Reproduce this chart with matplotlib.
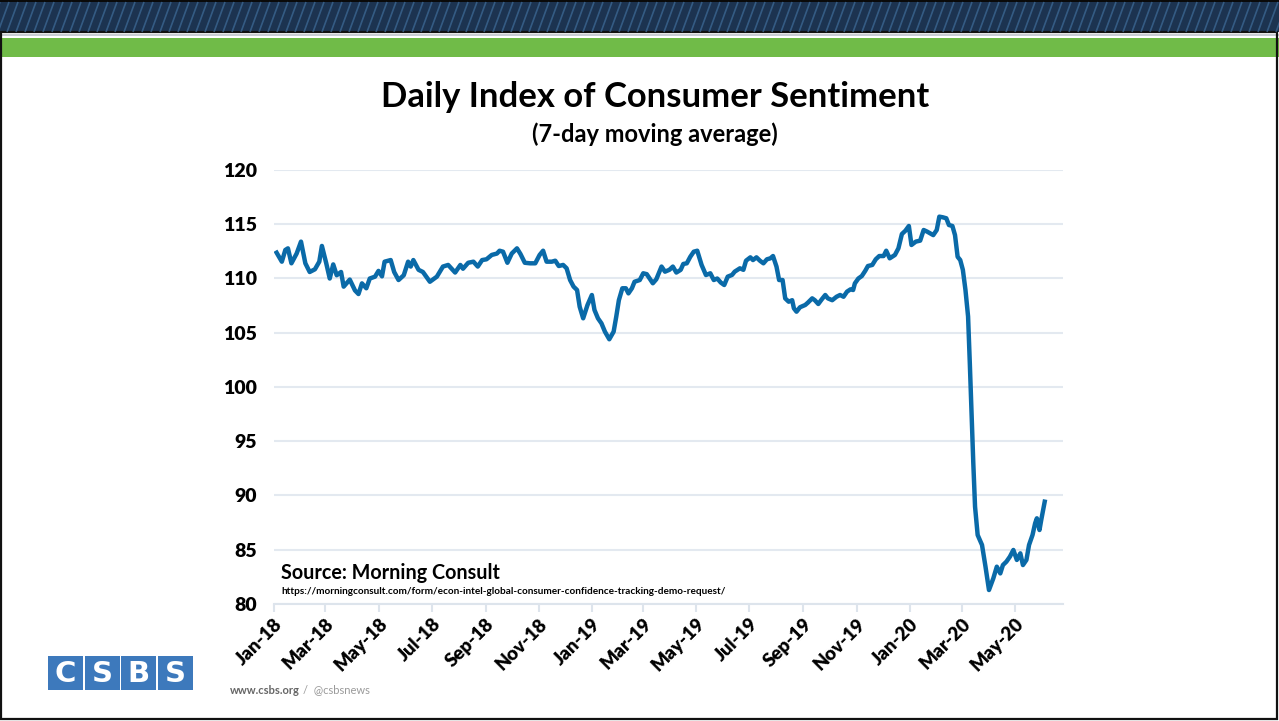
import numpy as np
import matplotlib
matplotlib.use("Agg")
import matplotlib.pyplot as plt
import matplotlib.dates as mdates
from matplotlib.patches import Rectangle

# ---------------- data ----------------
start_date = np.datetime64("2018-01-01")
day_offset = [
    3, 9, 13, 16, 20, 26, 31, 36, 41, 47, 52, 55, 60, 64, 68, 72, 77, 80, 87, 93,
    97, 101, 106, 110, 116, 120, 124, 127, 134, 138, 143, 149, 154, 157, 160, 166,
    171, 179, 187, 194, 200, 208, 214, 217, 223, 229, 234, 239, 244, 250, 256, 259,
    263, 268, 273, 279, 283, 288, 294, 300, 305, 309, 313, 319, 323, 327,
    332, 336, 340, 344, 348, 351, 355, 360, 365, 368, 372, 376, 380, 385, 390, 393,
    396, 400, 404, 407, 411, 414, 420, 424, 428, 435, 439, 445, 449, 454, 458, 462,
    467, 470, 474, 478, 482, 486, 491, 496, 501, 505, 509, 513, 517, 521, 526, 529,
    535, 539, 542, 547, 550, 554, 558, 562, 566, 570, 573, 577, 580, 584, 587, 591,
    595, 597, 600, 604, 610, 613, 618, 621, 625, 629, 633, 636, 641, 646, 650, 654,
    658, 662, 665, 667, 671, 675, 679, 682, 687, 691, 695,
    700, 703, 707, 713, 717, 721, 725, 729, 732, 737, 742, 746, 750, 757, 761, 764,
    768, 772, 775, 779, 782, 785, 788, 791, 794, 797, 799, 801, 803, 805, 808, 813,
    817, 821, 826, 830, 834, 837, 841, 845, 849, 853, 857, 860, 864, 867, 871, 874,
    876, 879, 881, 885,
]
index_value = [
    112.38, 111.55, 112.63, 112.78, 111.4, 112.3, 113.4, 111.4, 110.6, 110.85, 111.55,
    113.0, 111.4, 110.0, 111.3, 110.3, 110.6, 109.25, 109.9, 108.9,
    108.57, 109.55, 109.1, 110.0, 110.17, 110.7, 110.2, 111.55, 111.7, 110.6, 109.86,
    110.3, 111.55, 111.1, 111.7, 110.8,
    110.6, 109.7, 110.17, 111.1, 111.25, 110.55, 111.25, 110.9, 111.45, 111.55, 111.1,
    111.7, 111.77, 112.17, 112.3, 112.56,
    112.47, 111.45, 112.3, 112.78, 112.26, 111.45, 111.4, 111.4, 112.17, 112.56, 111.55,
    111.55, 111.64, 111.15,
    111.25, 110.94, 109.86, 109.25, 108.94, 107.4, 106.33, 107.56, 108.48, 107.1, 106.33,
    105.87, 105.1, 104.4, 105.1, 106.48,
    108.0, 109.1, 109.1, 108.63, 109.1, 109.7, 109.86, 110.48, 110.4, 109.56, 109.93,
    111.1, 110.63, 110.8, 111.1, 110.55,
    110.8, 111.34, 111.4, 112.0, 112.47, 112.56, 111.25, 110.32, 110.48, 109.86, 110.0,
    109.63, 109.4, 110.17, 110.33, 110.63,
    110.94, 110.8, 111.64, 111.95, 111.7, 111.95, 111.64, 111.4, 111.77, 111.86, 112.07,
    111.1, 109.86, 109.86, 108.17, 107.86,
    108.0, 107.25, 106.94, 107.35, 107.56, 107.77, 108.17, 108.0, 107.65, 108.08, 108.48,
    108.17, 108.0, 108.32, 108.48, 108.32,
    108.79, 109.0, 108.94, 109.55, 110.0, 110.23, 110.72, 111.15, 111.25, 111.77, 112.07,
    112.07, 112.56, 111.86, 112.17, 112.78, 114.1, 114.4, 114.84, 113.09, 113.4, 113.49,
    114.47, 114.32, 114.0, 114.47, 115.7,
    115.64, 115.55, 114.93, 114.84, 114.0, 112.0, 111.7, 110.8, 108.94, 106.5, 102.18,
    97.57, 92.97, 88.97, 86.36, 85.44,
    83.44, 81.29, 82.37, 83.44, 82.82, 83.59, 83.9, 84.36, 84.98, 84.06, 84.67, 83.59,
    84.06, 85.44, 86.36, 87.44,
    87.9, 86.82, 87.74, 89.43,
]
y_ticks = [80, 85, 90, 95, 100, 105, 110, 115, 120]
title = "Daily Index of Consumer Sentiment"
subtitle = "(7-day moving average)"
source_text = "Source: Morning Consult"
source_url = "https://morningconsult.com/form/econ-intel-global-consumer-confidence-tracking-demo-request/"

dates = start_date + np.array(day_offset).astype("timedelta64[D]")

# ---------------- figure ----------------
W, H = 1279, 721
plt.rcParams["font.family"] = ["Lato", "DejaVu Sans"]
fig = plt.figure(figsize=(W / 100, H / 100), dpi=100)
fig.patch.set_facecolor("white")

# decoration layer in pixel coordinates
deco = fig.add_axes([0, 0, 1, 1])
deco.set_xlim(0, W)
deco.set_ylim(H, 0)
deco.axis("off")
deco.add_patch(Rectangle((0, 1), W, 31, facecolor="#1c3350", edgecolor="none"))
for xs in range(-20, W + 20, 9):
    deco.plot([xs, xs + 11], [32, 2], color="#3d6995", lw=1.2, alpha=0.75, solid_capstyle="butt")
deco.add_patch(Rectangle((0, 0), W, 2, facecolor="#0a0a0a", edgecolor="none"))
deco.add_patch(Rectangle((0, 33.5), W, 2.5, facecolor="#c8cdd3", edgecolor="none"))
deco.add_patch(Rectangle((0, 38), W, 19, facecolor="#70bb48", edgecolor="none"))
# slide border
deco.add_patch(Rectangle((1, 32), W - 3, H - 34, facecolor="none", edgecolor="#111111", lw=1.6))
deco.set_xlim(0, W)
deco.set_ylim(H, 0)

# logo
letters = ["C", "S", "B", "S"]
for i, ch in enumerate(letters):
    x0 = 48 + i * 36.5
    deco.add_patch(Rectangle((x0, 656), 35, 34, facecolor="#3d79bc", edgecolor="none"))
    deco.text(x0 + 17.5, 674, ch, color="white", fontsize=21, fontweight="heavy",
              ha="center", va="center", family=["DejaVu Sans"])
deco.text(230, 690, "www.csbs.org", color="#666666", fontsize=8, fontweight="bold",
          ha="left", va="center")
deco.text(303, 690, "/  @csbsnews", color="#9a9a9a", fontsize=8, ha="left", va="center")

# titles
deco.text(655, 97, title, fontsize=24.9, fontweight="bold", ha="center", va="center", color="black")
deco.text(655, 134, subtitle, fontsize=17, fontweight="bold", ha="center", va="center", color="black")

# ---------------- chart ----------------
left, right = 274 / W, 1063 / W
bottom, top = 1 - 604 / H, 1 - 170 / H
ax = fig.add_axes([left, bottom, right - left, top - bottom])
ax.set_facecolor("none")
ax.plot(dates, index_value, color="#0a6aa8", lw=3.2, solid_joinstyle="round", zorder=3)

ax.set_ylim(80, 120)
ax.set_yticks(y_ticks)
ax.set_xlim(np.datetime64("2018-01-01"), np.datetime64("2020-06-25"))
ax.xaxis.set_major_locator(mdates.MonthLocator(bymonth=[1, 3, 5, 7, 9, 11]))
ax.xaxis.set_major_formatter(mdates.DateFormatter("%b-%y"))

ax.grid(axis="y", color="#e3e9f0", lw=1.5)
ax.set_axisbelow(True)
for s in ["left", "right", "top"]:
    ax.spines[s].set_visible(False)
ax.spines["bottom"].set_color("#dde4ec")
ax.spines["bottom"].set_linewidth(1.5)
ax.tick_params(axis="y", length=0, pad=12, labelsize=14)
ax.tick_params(axis="x", length=6, width=1.5, color="#dde4ec", direction="out", pad=2, labelsize=13.5)
for lab in ax.get_yticklabels():
    lab.set_fontweight("heavy")
for lab in ax.get_xticklabels():
    lab.set_fontweight("heavy")
    lab.set_rotation(45)
    lab.set_ha("right")
    lab.set_va("top")
    lab.set_rotation_mode("anchor")

ax.text(281, 573, source_text, transform=deco.transData, fontsize=14.2, fontweight="bold",
        ha="left", va="center")
ax.text(281, 591, source_url, transform=deco.transData, fontsize=7.2, fontweight="bold",
        ha="left", va="center")

fig.savefig("out.png", dpi=100, facecolor="white")
